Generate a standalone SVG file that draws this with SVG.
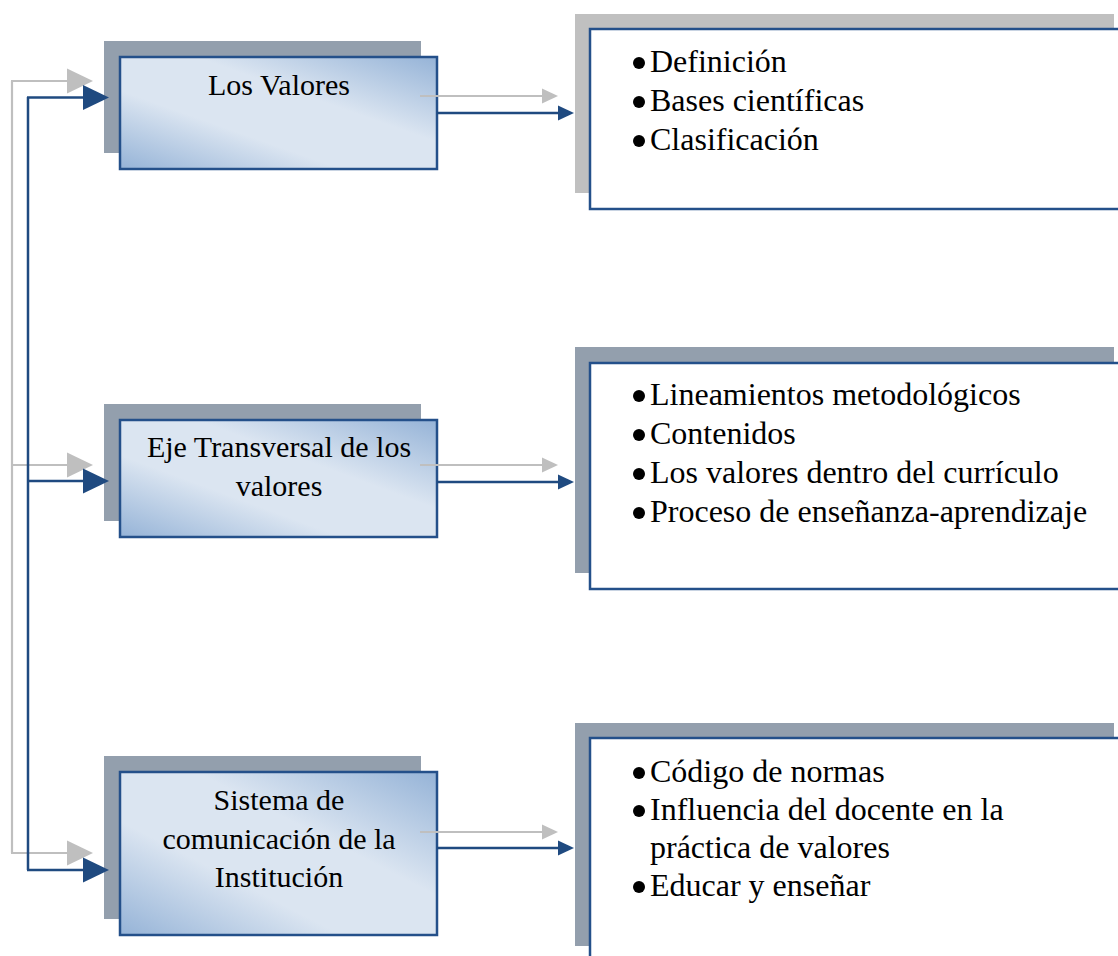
<svg xmlns="http://www.w3.org/2000/svg" width="1118" height="956" viewBox="0 0 1118 956">
<style>
.sh{fill:#939fad}
.sh2{fill:#c0c0c0}
.lb{fill:url(#g);stroke:#24508a;stroke-width:2.5}
.rb{fill:#fff;stroke:#24508a;stroke-width:2.5}
.t{font-family:"Liberation Serif","Times New Roman",serif;font-size:30px;fill:#000}
.c{text-anchor:middle}
.r{font-family:"Liberation Serif","Times New Roman",serif;font-size:32px;fill:#000}
.bu{fill:#000}
.gl{stroke:#bfbfbf;stroke-width:2.2;fill:none}
.bl{stroke:#1f4a80;stroke-width:2.5;fill:none}
</style>
<defs>
<linearGradient id="g" x1="0" y1="1" x2="1" y2="0">
<stop offset="0" stop-color="#95b3d7"/>
<stop offset="0.35" stop-color="#dbe5f1"/>
<stop offset="0.62" stop-color="#dbe5f1"/>
<stop offset="1" stop-color="#95b3d7"/>
</linearGradient>
<marker id="hbB" markerUnits="userSpaceOnUse" markerWidth="26" markerHeight="25" refX="0" refY="12.5" orient="auto" overflow="visible"><path d="M0,0 L26,12.5 L0,25 z" fill="#1f4a80"/></marker>
<marker id="hbG" markerUnits="userSpaceOnUse" markerWidth="26" markerHeight="25" refX="0" refY="12.5" orient="auto" overflow="visible"><path d="M0,0 L26,12.5 L0,25 z" fill="#bfbfbf"/></marker>
<marker id="hsB" markerUnits="userSpaceOnUse" markerWidth="16" markerHeight="15" refX="0" refY="7.5" orient="auto" overflow="visible"><path d="M0,0 L16,7.5 L0,15 z" fill="#1f4a80"/></marker>
<marker id="hsG" markerUnits="userSpaceOnUse" markerWidth="16" markerHeight="15" refX="0" refY="7.5" orient="auto" overflow="visible"><path d="M0,0 L16,7.5 L0,15 z" fill="#bfbfbf"/></marker>
</defs>
<rect width="1118" height="956" fill="#fff"/>

<g id="n1">
<rect class="sh" x="104" y="41" width="317" height="112"/>
<rect class="lb" x="120" y="57" width="317" height="112"/>
<text class="t c" x="279" y="95">Los Valores</text>
</g>
<g id="n2">
<rect class="sh" x="104" y="404" width="317" height="117"/>
<rect class="lb" x="120" y="420" width="317" height="117"/>
<text class="t c" x="279" y="457">Eje Transversal de los</text>
<text class="t c" x="279" y="496">valores</text>
</g>
<g id="n3">
<rect class="sh" x="104" y="756" width="317" height="163"/>
<rect class="lb" x="120" y="772" width="317" height="163"/>
<text class="t c" x="279" y="810">Sistema de</text>
<text class="t c" x="279" y="849">comunicación de la</text>
<text class="t c" x="279" y="887">Institución</text>
</g>

<g id="r1">
<rect class="sh2" x="575" y="14" width="539" height="179"/>
<rect class="rb" x="590" y="29" width="540" height="180"/>
<circle class="bu" cx="639" cy="63" r="6"/>
<circle class="bu" cx="639" cy="102" r="6"/>
<circle class="bu" cx="639" cy="141" r="6"/>
<text class="r" x="650" y="72">Definición</text>
<text class="r" x="650" y="111">Bases científicas</text>
<text class="r" x="650" y="150">Clasificación</text>
</g>
<g id="r2">
<rect class="sh" x="575" y="347" width="539" height="226"/>
<rect class="rb" x="590" y="363" width="540" height="226"/>
<circle class="bu" cx="639" cy="396" r="6"/>
<circle class="bu" cx="639" cy="435" r="6"/>
<circle class="bu" cx="639" cy="474" r="6"/>
<circle class="bu" cx="639" cy="513" r="6"/>
<text class="r" x="650" y="405">Lineamientos metodológicos</text>
<text class="r" x="650" y="444">Contenidos</text>
<text class="r" x="650" y="483">Los valores dentro del currículo</text>
<text class="r" x="650" y="522">Proceso de enseñanza-aprendizaje</text>
</g>
<g id="r3">
<rect class="sh" x="575" y="723" width="539" height="223"/>
<rect class="rb" x="590" y="738" width="540" height="240"/>
<circle class="bu" cx="639" cy="773" r="6"/>
<circle class="bu" cx="639" cy="811" r="6"/>
<circle class="bu" cx="639" cy="887" r="6"/>
<text class="r" x="650" y="782">Código de normas</text>
<text class="r" x="650" y="820">Influencia del docente en la</text>
<text class="r" x="650" y="858">práctica de valores</text>
<text class="r" x="650" y="896">Educar y enseñar</text>
</g>

<g id="connectors">
<path class="gl" d="M12,81 V853"/>
<path class="gl" d="M11,81 H67" marker-end="url(#hbG)"/>
<path class="gl" d="M12,465 H67" marker-end="url(#hbG)"/>
<path class="gl" d="M11,853 H67" marker-end="url(#hbG)"/>
<path class="bl" d="M28,97 V870"/>
<path class="bl" d="M27,97.5 H83" marker-end="url(#hbB)"/>
<path class="bl" d="M28,481 H83" marker-end="url(#hbB)"/>
<path class="bl" d="M27,870 H83" marker-end="url(#hbB)"/>
<path class="gl" d="M420,96 H542" marker-end="url(#hsG)"/>
<path class="gl" d="M420,465 H542" marker-end="url(#hsG)"/>
<path class="gl" d="M420,832 H542" marker-end="url(#hsG)"/>
<path class="bl" d="M437,113 H558" marker-end="url(#hsB)"/>
<path class="bl" d="M437,482 H558" marker-end="url(#hsB)"/>
<path class="bl" d="M437,848 H558" marker-end="url(#hsB)"/>
</g>
</svg>
